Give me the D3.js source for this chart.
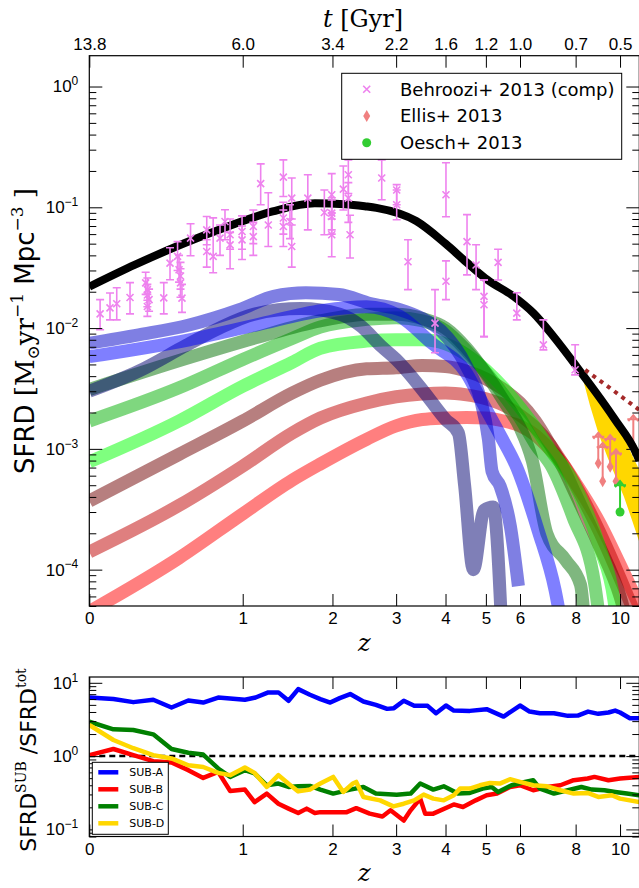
<!DOCTYPE html>
<html>
<head>
<meta charset="utf-8">
<script src="https://cdn.jsdelivr.net/npm/d3@7"></script>
<style>
  body { margin: 0; background: #fff; }
  svg { display: block; font-family: "DejaVu Sans", sans-serif; }
  .tick text { font-size: 17px; fill: #000; }
  .tick line { stroke: #000; }
</style>
</head>
<body>
<div id="wrapper"></div>
<script>
// ---- data (z, value) ----
const zTicks = [0, 1, 2, 3, 4, 5, 6, 8, 10]
const zTickLabels = ["0", "1", "2", "3", "4", "5", "6", "8", "10"]
const timeLabels = ["13.8", "6.0", "3.4", "2.2", "1.6", "1.2", "1.0", "0.7", "0.5"]

const totalSfrd = [[0, 0.022], [0.23, 0.0335], [0.54, 0.0506], [0.87, 0.0693], [1.29, 0.0925], [1.77, 0.108],
  [2.17, 0.106], [2.47, 0.102], [2.66, 0.099], [3.38, 0.077], [4, 0.050], [4.5, 0.035], [5.05, 0.025],
  [5.8, 0.0183], [6.44, 0.0133], [7.13, 0.0086], [8.04, 0.0048], [9.7, 0.0018], [10.86, 0.00090], [11, 0.00080]]

const bandNavy = [[0, 3.0e-3], [0.25, 4.4e-3], [0.55, 7.2e-3], [0.8, 1.0e-2], [1.1, 1.3e-2], [1.6, 1.45e-2],
  [2.1, 1.3e-2], [2.4, 1.05e-2], [2.75, 7.0e-3], [3.0, 5.5e-3], [3.5, 3.1e-3], [4.0, 1.75e-3], [4.3, 1.35e-3],
  [4.45, 5.0e-4], [4.67, 1.0e-4], [4.95, 3.1e-4], [5.2, 3.3e-4], [5.45, 3.0e-5]]
const bandMedBlue = [[0, 7.5e-3], [0.25, 8.8e-3], [0.57, 1.06e-2], [0.97, 1.42e-2], [1.3, 1.83e-2], [1.66, 1.96e-2],
  [2.09, 1.9e-2], [2.56, 1.6e-2], [3.07, 1.42e-2], [3.5, 1.2e-2], [3.9, 9.5e-3], [4.5, 4.8e-3], [4.85, 2.6e-3],
  [5.07, 1.2e-3], [5.17, 6.5e-4], [5.4, 4.9e-4], [5.7, 2.3e-4], [5.95, 7.3e-5]]
const bandBlue = [[0, 5.8e-3], [0.57, 8.0e-3], [1.12, 1.06e-2], [1.87, 1.4e-2], [2.5, 1.5e-2], [3.07, 1.25e-2],
  [3.7, 7.5e-3], [4.5, 4.2e-3], [4.85, 2.6e-3], [5.4, 1.3e-3], [5.9, 7.0e-4], [6.6, 2.1e-4], [7.2, 6.8e-5], [7.5, 3.0e-5]]
const bandDarkGreen = [[0, 3.1e-3], [0.57, 5.7e-3], [1.12, 8.3e-3], [1.84, 1.15e-2], [2.56, 1.3e-2], [3, 1.3e-2],
  [3.5, 1.2e-2], [4, 1.0e-2], [4.5, 6.8e-3], [5, 4.2e-3], [5.5, 2.5e-3], [6, 1.5e-3], [6.4, 8.0e-4], [6.9, 2.0e-4],
  [7.6, 1.2e-4], [8.2, 7.5e-5], [8.4, 3.0e-5]]
const bandGreen = [[0, 1.7e-3], [0.5, 3.2e-3], [1, 5.5e-3], [1.5, 8.2e-3], [1.84, 1.02e-2], [2.5, 1.18e-2], [3, 1.22e-2],
  [3.5, 1.15e-2], [4, 9.5e-3], [4.5, 6.5e-3], [5, 4.3e-3], [5.5, 2.8e-3], [6, 1.8e-3], [6.5, 1.1e-3], [7.1, 7.0e-4],
  [7.9, 2.7e-4], [8.8, 7.8e-5], [9.1, 3.0e-5]]
const bandLime = [[0, 7.8e-4], [0.5, 1.7e-3], [1, 3.3e-3], [1.5, 5.2e-3], [1.84, 6.8e-3], [2.5, 7.8e-3], [3, 8.0e-3],
  [3.5, 8.0e-3], [4, 7.4e-3], [4.5, 6.0e-3], [5, 4.5e-3], [5.5, 3.2e-3], [6, 2.2e-3], [6.5, 1.5e-3], [7, 1.0e-3],
  [7.9, 5.3e-4], [9.05, 1.5e-4], [9.7, 5.6e-5], [9.9, 3.0e-5]]
const bandBrown = [[0, 3.7e-4], [0.5, 9.0e-4], [1, 1.7e-3], [1.5, 2.9e-3], [1.84, 3.7e-3], [2.5, 4.6e-3], [3, 4.7e-3],
  [3.5, 4.9e-3], [4, 4.8e-3], [4.5, 4.4e-3], [5, 3.8e-3], [5.5, 3.1e-3], [6, 2.4e-3], [6.5, 1.7e-3], [7, 1.1e-3],
  [7.5, 7.0e-4], [8, 4.2e-4], [9, 1.6e-4], [10, 6.0e-5], [10.5, 3.0e-5]]
const bandRose = [[0, 1.4e-4], [0.5, 3.4e-4], [1, 7.2e-4], [1.5, 1.35e-3], [1.84, 1.8e-3], [2.5, 2.4e-3], [3, 2.7e-3],
  [3.5, 2.85e-3], [4, 2.9e-3], [4.5, 2.8e-3], [5, 2.6e-3], [5.5, 2.3e-3], [6, 1.9e-3], [6.5, 1.5e-3], [7, 1.1e-3],
  [7.5, 7.5e-4], [8, 5.0e-4], [9, 2.1e-4], [10, 8.5e-5], [11, 3.5e-5]]
const bandRed = [[0, 4.5e-5], [0.5, 1.25e-4], [1, 2.9e-4], [1.5, 5.5e-4], [1.84, 7.5e-4], [2.5, 1.2e-3], [3, 1.55e-3],
  [3.5, 1.75e-3], [4, 1.8e-3], [4.5, 1.82e-3], [5, 1.8e-3], [5.5, 1.7e-3], [6, 1.55e-3], [6.5, 1.3e-3], [7, 1.0e-3],
  [7.5, 7.5e-4], [8, 5.2e-4], [9, 2.5e-4], [10, 1.1e-4], [11, 5.0e-5]]

// Behroozi+ 2013 compilation: z, sfrd, lower, upper
const behroozi = [[0.05, 0.0131, 0.0097, 0.0172], [0.098, 0.0147, 0.0117, 0.0195], [0.132, 0.0159, 0.0117, 0.0216],
  [0.202, 0.0179, 0.0131, 0.0238], [0.29, 0.0237, 0.019, 0.029], [0.30, 0.0208, 0.017, 0.026], [0.30, 0.0188, 0.015, 0.023],
  [0.31, 0.0172, 0.0138, 0.021], [0.30, 0.0151, 0.0125, 0.019], [0.40, 0.0178, 0.0131, 0.0238], [0.44, 0.0345, 0.0251, 0.0462],
  [0.49, 0.0392, 0.030, 0.052], [0.50, 0.0304, 0.024, 0.040], [0.51, 0.0270, 0.021, 0.035], [0.51, 0.0237, 0.018, 0.031],
  [0.52, 0.0177, 0.0135, 0.023], [0.58, 0.0556, 0.0397, 0.073], [0.70, 0.0651, 0.049, 0.084], [0.70, 0.0431, 0.032, 0.0538],
  [0.75, 0.0392, 0.0287, 0.0818], [0.805, 0.0556, 0.040, 0.0714], [0.846, 0.0763, 0.0538, 0.0954], [0.889, 0.0592, 0.045, 0.080],
  [0.889, 0.0489, 0.031, 0.062], [0.994, 0.0631, 0.045, 0.085], [0.994, 0.0538, 0.037, 0.070], [1.098, 0.0693, 0.050, 0.095],
  [1.098, 0.0572, 0.040, 0.075], [1.169, 0.157, 0.105, 0.229], [1.245, 0.0714, 0.0474, 0.132], [1.403, 0.178, 0.123, 0.247],
  [1.403, 0.0815, 0.060, 0.110], [1.403, 0.0693, 0.0474, 0.095], [1.476, 0.0763, 0.055, 0.105], [1.496, 0.119, 0.080, 0.175],
  [1.496, 0.0474, 0.032, 0.0714], [1.684, 0.119, 0.065, 0.186], [1.892, 0.0906, 0.0592, 0.139], [1.99, 0.127, 0.09, 0.19],
  [1.99, 0.0895, 0.065, 0.12], [1.99, 0.0839, 0.06, 0.115], [1.99, 0.0592, 0.039, 0.08], [2.151, 0.1415, 0.095, 0.22],
  [2.223, 0.186, 0.13, 0.247], [2.223, 0.119, 0.075, 0.16], [2.248, 0.0592, 0.038, 0.086], [2.748, 0.175, 0.1155, 0.247],
  [3.01, 0.139, 0.105, 0.154], [3.01, 0.105, 0.0788, 0.139], [3.22, 0.0354, 0.0208, 0.0538], [3.768, 0.011, 0.00624, 0.0208],
  [4.01, 0.127, 0.0836, 0.234], [4.01, 0.0244, 0.0172, 0.036], [4.51, 0.052, 0.0276, 0.087], [4.74, 0.0333, 0.0208, 0.049],
  [4.95, 0.0183, 0.0085, 0.025], [4.95, 0.0156, 0.0085, 0.025], [5.34, 0.035, 0.025, 0.045], [5.9, 0.0133, 0.0117, 0.0196],
  [6.78, 0.00727, 0.0066, 0.0117], [7.98, 0.00452, 0.0041, 0.00727]]

// Ellis+ 2013 lower limits: z, sfrd, arrow tip
const ellis = [[8.97, 7.6e-4, 1.36e-3], [9.17, 5.4e-4, 1.12e-3], [9.52, 7.1e-4, 1.3e-3], [9.80, 5.4e-4, 9.9e-4], [10.68, 1.05e-3, 1.9e-3]]
// Oesch+ 2013: z, sfrd, arrow tip
const oesch = [[10.0, 3.0e-4, 5.4e-4]]

const goldZ = [8.2, 8.6, 9.0, 9.4, 9.8, 10.2, 10.6, 11]
const goldHi = [4.6e-3, 3.6e-3, 2.8e-3, 2.2e-3, 1.7e-3, 1.25e-3, 9.0e-4, 6.7e-4]
const goldLo = [4.5e-3, 2.3e-3, 1.3e-3, 8.5e-4, 5.8e-4, 4.0e-4, 2.6e-4, 1.7e-4]

const dottedZ = [8.4, 9.5, 11]
const dottedSfrd = [4.5e-3, 3.2e-3, 2.1e-3]

// lower panel: SFRD_SUB / SFRD_tot
const ratioA = [[0, 6.3], [0.115, 6.0], [0.22, 5.45], [0.335, 5.87], [0.45, 4.6], [0.564, 5.74], [0.673, 5.38], [0.79, 6.3],
  [1.02, 5.87], [1.12, 6.3], [1.245, 7.4], [1.35, 7.4], [1.46, 5.68], [1.57, 8.2], [1.71, 6.87], [1.84, 6.0], [1.97, 5.38],
  [2.10, 6.18], [2.25, 7.02], [2.45, 5.56], [2.65, 5.0], [2.84, 4.41], [2.96, 4.51], [3.14, 5.68], [3.34, 4.85], [3.61, 4.85],
  [3.79, 3.85], [4.01, 4.9], [4.19, 4.18], [4.58, 4.14], [5.02, 4.37], [5.5, 3.46], [6.0, 4.9], [6.31, 4.05], [6.66, 3.85],
  [7.16, 3.85], [7.69, 3.54], [8.09, 3.57], [8.52, 4.05], [8.97, 3.77], [9.44, 3.93], [9.76, 4.18], [10.0, 3.93], [10.5, 3.29], [11, 3.29]]
const ratioB = [[0, 1.03], [0.115, 1.25], [0.22, 1.03], [0.335, 0.854], [0.45, 0.82], [0.564, 0.643], [0.673, 0.504],
  [0.79, 0.609], [0.89, 0.334], [1.02, 0.349], [1.11, 0.236], [1.23, 0.308], [1.35, 0.224], [1.46, 0.192], [1.57, 0.167],
  [1.67, 0.192], [1.77, 0.167], [1.84, 0.172], [1.97, 0.172], [2.2, 0.172], [2.34, 0.195], [2.55, 0.164], [2.76, 0.150],
  [2.9, 0.182], [3.14, 0.132], [3.27, 0.182], [3.46, 0.263], [3.56, 0.164], [3.73, 0.164], [4.19, 0.219], [4.41, 0.202],
  [4.73, 0.249], [5.02, 0.292], [5.31, 0.308], [5.69, 0.379], [6.0, 0.400], [6.43, 0.342], [6.91, 0.379], [7.4, 0.400],
  [7.92, 0.469], [8.5, 0.494], [8.8, 0.520], [9.44, 0.469], [10.0, 0.494], [11, 0.520]]
const ratioC = [[0, 2.95], [0.115, 2.32], [0.22, 2.27], [0.335, 1.98], [0.45, 1.25], [0.564, 1.11], [0.673, 1.05],
  [0.79, 0.678], [0.89, 0.520], [1.02, 0.643], [1.11, 0.579], [1.23, 0.400], [1.35, 0.422], [1.46, 0.379], [1.57, 0.387],
  [1.71, 0.391], [1.84, 0.349], [2.01, 0.308], [2.25, 0.349], [2.45, 0.379], [2.65, 0.308], [3.01, 0.298], [3.27, 0.308],
  [3.46, 0.422], [3.73, 0.349], [3.96, 0.387], [4.29, 0.308], [4.58, 0.314], [4.91, 0.360], [5.16, 0.379], [5.34, 0.324],
  [5.74, 0.400], [6.16, 0.444], [6.43, 0.469], [6.66, 0.360], [7.16, 0.308], [7.69, 0.342], [8.24, 0.379], [8.68, 0.349],
  [9.25, 0.342], [9.76, 0.324], [10.34, 0.308], [11, 0.292]]
const ratioD = [[0, 2.66], [0.115, 1.66], [0.22, 1.28], [0.335, 1.03], [0.45, 0.93], [0.564, 0.75], [0.673, 0.71],
  [0.79, 0.59], [0.89, 0.55], [1.02, 0.70], [1.11, 0.59], [1.23, 0.38], [1.35, 0.55], [1.46, 0.42], [1.57, 0.33],
  [1.71, 0.35], [1.84, 0.422], [2.01, 0.520], [2.15, 0.324], [2.29, 0.422], [2.34, 0.444], [2.45, 0.277], [2.72, 0.249],
  [2.95, 0.206], [3.14, 0.224], [3.34, 0.249], [3.53, 0.298], [3.73, 0.263], [3.96, 0.249], [4.19, 0.292], [4.34, 0.360],
  [4.58, 0.360], [4.84, 0.400], [5.11, 0.431], [5.39, 0.422], [5.69, 0.484], [6.0, 0.444], [6.43, 0.400], [6.91, 0.387],
  [7.4, 0.342], [7.92, 0.308], [8.5, 0.314], [8.97, 0.277], [9.6, 0.292], [10.0, 0.263], [11, 0.236]]

const subNames = ["SUB-A", "SUB-B", "SUB-C", "SUB-D"]

function drawChart() {

  // 1. Dimensions
  const dimensions = {
    width: 639,
    height: 888,
    left: 89.3,
    right: 639.3,
    top: { top: 55.7, bottom: 606 },
    sub: { top: 677, bottom: 836.5 },
  }

  // 2. Canvas
  const svg = d3.select("#wrapper").append("svg")
      .attr("width", dimensions.width)
      .attr("height", dimensions.height)

  const defs = svg.append("defs")
  defs.append("clipPath").attr("id", "clip-top").append("rect")
      .attr("x", dimensions.left).attr("y", dimensions.top.top)
      .attr("width", dimensions.right - dimensions.left)
      .attr("height", dimensions.top.bottom - dimensions.top.top)
  defs.append("clipPath").attr("id", "clip-sub").append("rect")
      .attr("x", dimensions.left).attr("y", dimensions.sub.top)
      .attr("width", dimensions.right - dimensions.left)
      .attr("height", dimensions.sub.bottom - dimensions.sub.top)

  // 3. Scales (x is log(1+z))
  const xScale = d3.scaleLog().domain([1, 12]).range([dimensions.left, dimensions.right])
  const xz = z => xScale(1 + z)
  const yScale = d3.scaleLog().domain([5e-5, 1.8]).range([dimensions.top.bottom, dimensions.top.top])
  const ySub = d3.scaleLog().domain([0.08, 12]).range([dimensions.sub.bottom, dimensions.sub.top])

  // 4. Upper panel data
  const plot = svg.append("g").attr("clip-path", "url(#clip-top)")

  const bandLine = d3.line()
    .x(d => xz(d[0]))
    .y(d => yScale(d[1]))
    .curve(d3.curveMonotoneX)

  const bands = [
    { data: bandRed, color: "#ff0000" },
    { data: bandRose, color: "#c00000" },
    { data: bandBrown, color: "#700000" },
    { data: bandLime, color: "#00ff00" },
    { data: bandGreen, color: "#00b000" },
    { data: bandDarkGreen, color: "#007000" },
    { data: bandNavy, color: "#000070" },
    { data: bandBlue, color: "#0000ff" },
    { data: bandMedBlue, color: "#0000c8" },
  ]
  plot.selectAll(".band")
    .data(bands)
    .enter().append("path")
      .attr("class", "band")
      .attr("d", d => bandLine(d.data))
      .attr("fill", "none")
      .attr("stroke", d => d.color)
      .attr("stroke-opacity", 0.5)
      .attr("stroke-width", 13)
      .attr("stroke-linejoin", "round")

  // extrapolation range at high z
  const goldArea = d3.area()
    .x((d, i) => xz(goldZ[i]))
    .y0((d, i) => yScale(goldLo[i]))
    .y1((d, i) => yScale(goldHi[i]))
  plot.append("path")
      .attr("d", goldArea(goldZ))
      .attr("fill", "#ffd700")

  // lower limits drawn as an upward arrow
  const drawLimit = (sel, color) => {
    sel.append("line")
        .attr("x1", d => xz(d[0])).attr("x2", d => xz(d[0]))
        .attr("y1", d => yScale(d[1])).attr("y2", d => yScale(d[2]))
        .attr("stroke", color).attr("stroke-width", 2)
    sel.append("path")
        .attr("d", d => {
          const cx = xz(d[0]), cy = yScale(d[2])
          return `M${cx - 5},${cy + 6}L${cx},${cy}L${cx + 5},${cy + 6}M${cx - 6},${cy + 4}L${cx + 6},${cy + 4}`
        })
        .attr("fill", "none").attr("stroke", color).attr("stroke-width", 2)
  }
  const ellisG = plot.selectAll(".ellis").data(ellis).enter().append("g").attr("class", "ellis")
  drawLimit(ellisG, "#f08080")
  ellisG.append("path")
      .attr("d", d => {
        const cx = xz(d[0]), cy = yScale(d[1])
        return `M${cx},${cy - 6}L${cx + 3.5},${cy}L${cx},${cy + 6}L${cx - 3.5},${cy}Z`
      })
      .attr("fill", "#f08080")

  const oeschG = plot.selectAll(".oesch").data(oesch).enter().append("g").attr("class", "oesch")
  drawLimit(oeschG, "#32cd32")
  oeschG.append("circle")
      .attr("cx", d => xz(d[0])).attr("cy", d => yScale(d[1])).attr("r", 4.5)
      .attr("fill", "#32cd32")

  // total SFRD
  plot.append("path")
      .attr("d", bandLine(totalSfrd))
      .attr("fill", "none")
      .attr("stroke", "#000")
      .attr("stroke-width", 8)
      .attr("stroke-linejoin", "round")

  plot.append("path")
      .attr("d", d3.line().x((d, i) => xz(dottedZ[i])).y(d => yScale(d))(dottedSfrd))
      .attr("fill", "none")
      .attr("stroke", "#a52a2a")
      .attr("stroke-width", 4)
      .attr("stroke-dasharray", "4,5")

  // Behroozi+ 2013 compilation with error bars
  const behG = plot.selectAll(".beh").data(behroozi).enter().append("g").attr("class", "beh")
      .attr("stroke", "#ee82ee").attr("stroke-width", 1.6).attr("fill", "none")
  behG.append("path")
      .attr("d", d => {
        const cx = xz(d[0]), lo = yScale(d[2]), hi = yScale(d[3])
        return `M${cx},${lo}L${cx},${hi}M${cx - 4},${lo}L${cx + 4},${lo}M${cx - 4},${hi}L${cx + 4},${hi}`
      })
  behG.append("path")
      .attr("d", d => {
        const cx = xz(d[0]), cy = yScale(d[1]), s = 3.5
        return `M${cx - s},${cy - s}L${cx + s},${cy + s}M${cx - s},${cy + s}L${cx + s},${cy - s}`
      })

  // 5. Lower panel data
  const sub = svg.append("g").attr("clip-path", "url(#clip-sub)")
  sub.append("line")
      .attr("x1", dimensions.left).attr("x2", dimensions.right)
      .attr("y1", ySub(1)).attr("y2", ySub(1))
      .attr("stroke", "#000").attr("stroke-width", 2.5).attr("stroke-dasharray", "6,4")

  const ratioLine = d3.line().x(d => xz(d[0])).y(d => ySub(d[1]))
  const subColors = ["#0000ff", "#ff0000", "#008000", "#ffd700"]
  const ratios = [ratioA, ratioB, ratioC, ratioD]
  sub.selectAll(".ratio")
    .data(ratios)
    .enter().append("path")
      .attr("class", "ratio")
      .attr("d", ratioLine)
      .attr("fill", "none")
      .attr("stroke", (d, i) => subColors[i])
      .attr("stroke-width", 4.5)
      .attr("stroke-linejoin", "round")

  // 6. Peripherals: axes on all four sides, ticks pointing inwards
  const zValues = zTicks.map(z => 1 + z)
  const isDecade = d => Math.abs(Math.log10(d) - Math.round(Math.log10(d))) < 1e-6

  const drawYAxes = (scale) => {
    const all = scale.ticks()
    const major = all.filter(isDecade)
    const minor = all.filter(d => !isDecade(d))
    const left = svg.append("g")
        .attr("transform", `translate(${dimensions.left},0)`)
        .call(d3.axisLeft(scale).tickValues(major).tickSizeInner(-13).tickSizeOuter(0).tickPadding(11)
          .tickFormat(d => Math.round(Math.log10(d))))
    left.selectAll(".tick text").each(function(d) {
      const t = d3.select(this)
      const e = Math.round(Math.log10(d))
      t.text(null)
      t.append("tspan").text("10")
      t.append("tspan").attr("dy", "-0.6em").style("font-size", "12px").text(e < 0 ? "\u2212" + (-e) : e)
    })
    svg.append("g")
        .attr("transform", `translate(${dimensions.left},0)`)
        .call(d3.axisLeft(scale).tickValues(minor).tickSizeInner(-7).tickSizeOuter(0).tickFormat(""))
    svg.append("g")
        .attr("transform", `translate(${dimensions.right},0)`)
        .call(d3.axisRight(scale).tickValues(major).tickSizeInner(-13).tickSizeOuter(0).tickFormat(""))
    svg.append("g")
        .attr("transform", `translate(${dimensions.right},0)`)
        .call(d3.axisRight(scale).tickValues(minor).tickSizeInner(-7).tickSizeOuter(0).tickFormat(""))
  }
  drawYAxes(yScale)
  drawYAxes(ySub)

  // upper panel x axes
  svg.append("g")
      .attr("transform", `translate(0,${dimensions.top.bottom})`)
      .call(d3.axisBottom(xScale).tickValues(zValues).tickSizeInner(-12).tickSizeOuter(0).tickPadding(6)
        .tickFormat((d, i) => zTickLabels[i]))
  svg.append("g")
      .attr("transform", `translate(0,${dimensions.top.top})`)
      .call(d3.axisTop(xScale).tickValues(zValues).tickSizeInner(-12).tickSizeOuter(0).tickPadding(6)
        .tickFormat((d, i) => timeLabels[i]))

  // lower panel x axes
  svg.append("g")
      .attr("transform", `translate(0,${dimensions.sub.bottom})`)
      .call(d3.axisBottom(xScale).tickValues(zValues).tickSizeInner(-12).tickSizeOuter(0).tickPadding(6)
        .tickFormat((d, i) => zTickLabels[i]))
  svg.append("g")
      .attr("transform", `translate(0,${dimensions.sub.top})`)
      .call(d3.axisTop(xScale).tickValues(zValues).tickSizeInner(-12).tickSizeOuter(0).tickFormat(""))

  svg.selectAll(".domain").remove()

  // frames
  ;[dimensions.top, dimensions.sub].forEach(p => {
    svg.append("rect")
        .attr("x", dimensions.left).attr("y", p.top)
        .attr("width", dimensions.right - dimensions.left).attr("height", p.bottom - p.top)
        .attr("fill", "none").attr("stroke", "#000").attr("stroke-width", 1.2)
  })

  // axis labels
  const serif = "'DejaVu Serif', serif"
  const zLabel = (y) => svg.append("text")
      .attr("x", (dimensions.left + dimensions.right) / 2).attr("y", y)
      .attr("text-anchor", "middle")
      .style("font-family", serif).style("font-style", "italic").style("font-size", "24px")
      .text("z")
  zLabel(651)
  zLabel(881)

  const tLabel = svg.append("text")
      .attr("x", 363).attr("y", 27)
      .attr("text-anchor", "middle")
      .style("font-family", serif).style("font-size", "24px")
  tLabel.append("tspan").style("font-style", "italic").text("t")
  tLabel.append("tspan").text(" [Gyr]")

  const yLabel = svg.append("text")
      .attr("transform", "translate(34,331) rotate(-90)")
      .attr("text-anchor", "middle")
      .style("font-size", "26px")
  yLabel.append("tspan").text("SFRD ")
  yLabel.append("tspan").style("font-family", serif).text("[M")
  yLabel.append("tspan").attr("dy", 5).style("font-family", serif).style("font-size", "17px").text("\u2299")
  yLabel.append("tspan").attr("dy", -5).style("font-family", serif).text("yr")
  yLabel.append("tspan").attr("dy", -11).style("font-family", serif).style("font-size", "17px").text("\u22121")
  yLabel.append("tspan").attr("dy", 11).text(" Mpc")
  yLabel.append("tspan").attr("dy", -11).style("font-family", serif).style("font-size", "17px").text("\u22123")
  yLabel.append("tspan").attr("dy", 11).style("font-family", serif).text(" ]")

  const subLabel = svg.append("text")
      .attr("transform", "translate(36,760) rotate(-90)")
      .attr("text-anchor", "middle")
      .style("font-size", "22px")
  subLabel.append("tspan").text("SFRD")
  subLabel.append("tspan").attr("dy", -10).style("font-family", serif).style("font-size", "14px").text("SUB")
  subLabel.append("tspan").attr("dy", 10).text(" /SFRD")
  subLabel.append("tspan").attr("dy", -10).style("font-family", serif).style("font-size", "14px").text("tot")

  // 7. Legends
  const legend = svg.append("g")
  legend.append("rect")
      .attr("x", 341.7).attr("y", 73.3).attr("width", 280).attr("height", 86)
      .attr("fill", "#fff").attr("stroke", "#000").attr("stroke-width", 1)
  const legendRows = ["Behroozi+ 2013 (comp)", "Ellis+ 2013", "Oesch+ 2013"]
  legend.selectAll(".leg-text").data(legendRows).enter().append("text")
      .attr("x", 400).attr("y", (d, i) => 89.3 + i * 26.7)
      .attr("dy", "0.35em")
      .style("font-size", "18px")
      .text(d => d)
  legend.append("path")
      .attr("d", "M363.2,85.8L370.2,92.8M363.2,92.8L370.2,85.8")
      .attr("stroke", "#ee82ee").attr("stroke-width", 1.6)
  legend.append("path")
      .attr("d", "M366.7,110L370.2,116L366.7,122L363.2,116Z")
      .attr("fill", "#f08080")
  legend.append("circle")
      .attr("cx", 366.7).attr("cy", 142.7).attr("r", 4.5)
      .attr("fill", "#32cd32")

  const subLegend = svg.append("g")
  subLegend.append("rect")
      .attr("x", 92.3).attr("y", 762.3).attr("width", 76).attr("height", 72)
      .attr("fill", "#fff").attr("stroke", "#000").attr("stroke-width", 1)
  const rowsG = subLegend.selectAll(".sub-leg").data(subNames).enter().append("g")
      .attr("transform", (d, i) => `translate(0,${772.3 + i * 17})`)
  rowsG.append("line")
      .attr("x1", 98.3).attr("x2", 118.3)
      .attr("stroke", (d, i) => subColors[i]).attr("stroke-width", 4.5)
  rowsG.append("text")
      .attr("x", 129.3).attr("dy", "0.35em")
      .style("font-size", "11px")
      .text(d => d)
}
drawChart()
</script>
</body>
</html>
